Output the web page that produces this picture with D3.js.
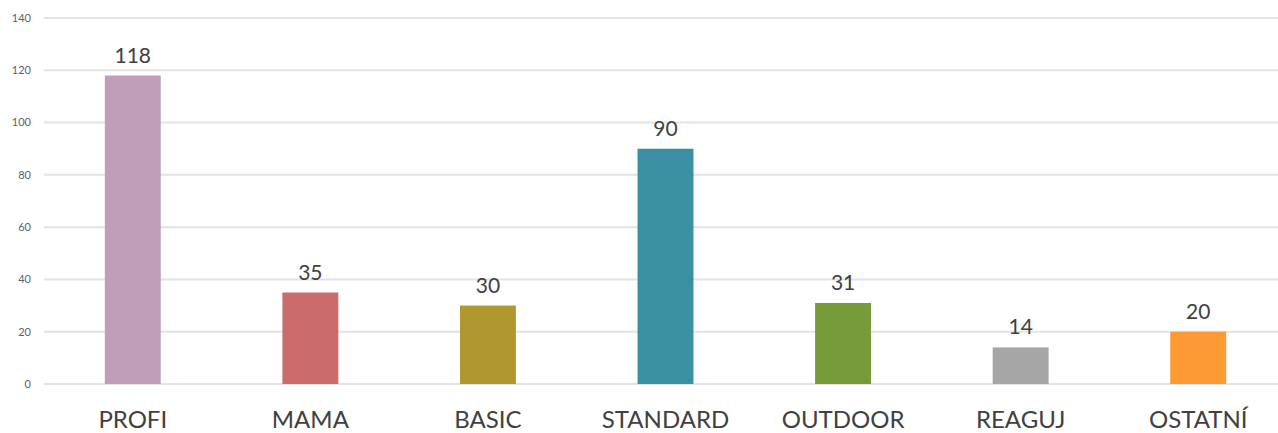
<!DOCTYPE html>
<html>
<head>
<meta charset="utf-8">
<script src="https://cdn.jsdelivr.net/npm/d3@7"></script>
<style>
  body { margin: 0; background: #fff; }
  svg text { font-family: "Lato", "DejaVu Sans", sans-serif; }
</style>
</head>
<body>
<svg id="chart" width="1278" height="433"></svg>
<script>
const categories = ["PROFI", "MAMA", "BASIC", "STANDARD", "OUTDOOR", "REAGUJ", "OSTATNÍ"];
const values = [118, 35, 30, 90, 31, 14, 20];
const colors = ["#c09eb9", "#cb6b6b", "#b0972e", "#3a8fa3", "#779a3a", "#a6a6a6", "#fd9a34"];
const yTicks = [0, 20, 40, 60, 80, 100, 120, 140];

const svg = d3.select("#chart");
const width = +svg.attr("width");
const height = +svg.attr("height");

const x = d3.scaleBand()
    .domain(categories)
    .range([44, 1287])
    .paddingInner(0.685)
    .paddingOuter(0.3425);

const y = d3.scaleLinear()
    .domain([0, 140])
    .range([384, 18]);

// gridlines
svg.append("g")
    .selectAll("line")
    .data(yTicks)
    .join("line")
    .attr("x1", 44)
    .attr("x2", width)
    .attr("y1", d => y(d))
    .attr("y2", d => y(d))
    .attr("stroke", "#e3e3e3")
    .attr("stroke-width", 2);

// y tick labels
svg.append("g")
    .selectAll("text")
    .data(yTicks)
    .join("text")
    .attr("x", 31)
    .attr("y", d => y(d))
    .attr("dy", "0.35em")
    .attr("text-anchor", "end")
    .style("font-size", "11px")
    .style("fill", "#5a5f6e")
    .text(d => d);

// bars
svg.append("g")
    .selectAll("rect")
    .data(values)
    .join("rect")
    .attr("x", (d, i) => x(categories[i]))
    .attr("width", x.bandwidth())
    .attr("y", d => y(d))
    .attr("height", d => y(0) - y(d))
    .attr("fill", (d, i) => colors[i]);

// value labels
svg.append("g")
    .selectAll("text")
    .data(values)
    .join("text")
    .attr("x", (d, i) => x(categories[i]) + x.bandwidth() / 2)
    .attr("y", d => y(d) - 13)
    .attr("text-anchor", "middle")
    .style("font-size", "21px")
    .style("fill", "#404040")
    .text(d => d);

// category labels
svg.append("g")
    .selectAll("text")
    .data(categories)
    .join("text")
    .attr("x", d => x(d) + x.bandwidth() / 2)
    .attr("y", 428)
    .attr("text-anchor", "middle")
    .style("font-size", "24px")
    .style("fill", "#404040")
    .text(d => d);
</script>
</body>
</html>
